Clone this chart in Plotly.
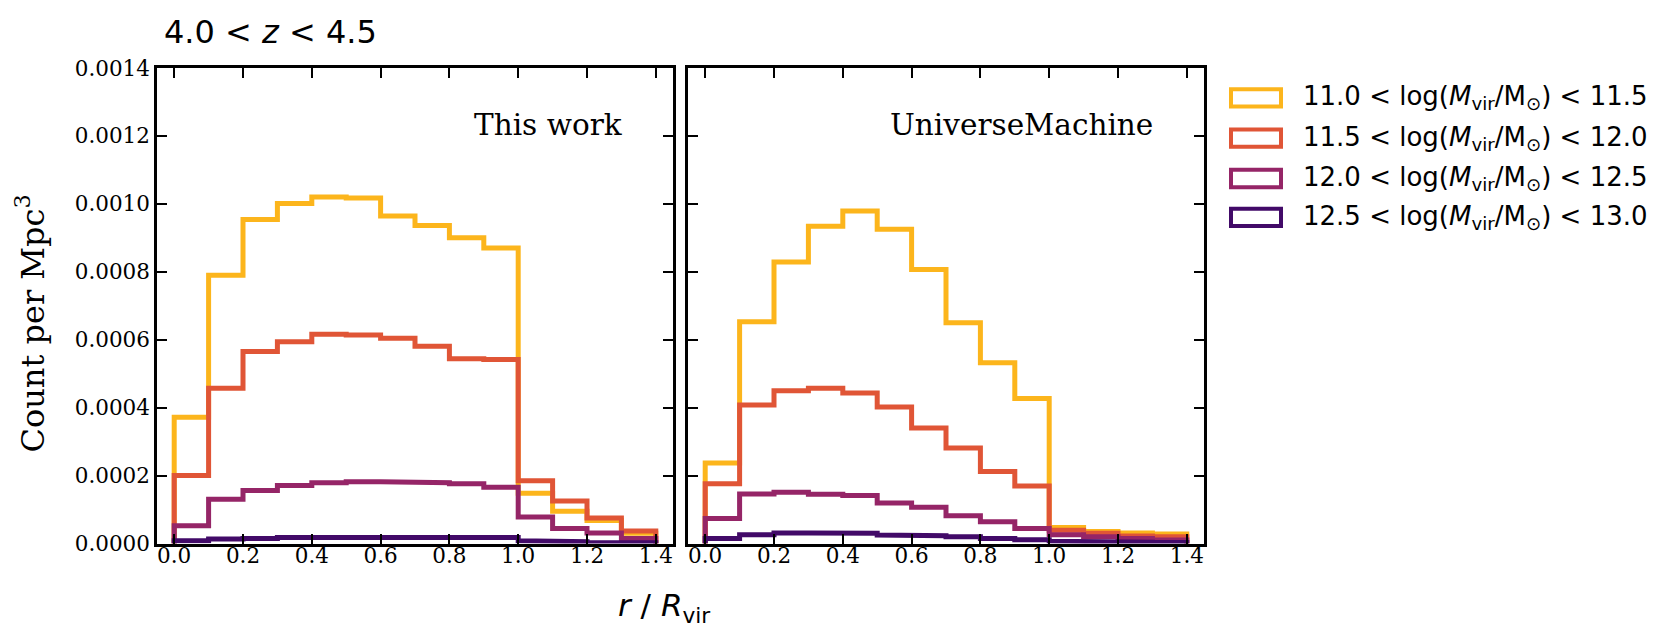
"""
Radial distribution of satellites, 4.0 < z < 4.5
This work vs UniverseMachine, step histograms per halo mass bin
"""
import numpy as np
import plotly.graph_objects as go
from plotly.subplots import make_subplots

W, H = 1661, 634
OFF = 8  # default body margin of the html page

# bin edges in r / R_vir
edges = [0.0, 0.1, 0.2, 0.3, 0.4, 0.5, 0.6, 0.7, 0.8, 0.9, 1.0, 1.1, 1.2, 1.3, 1.4]

# This work, count per Mpc^3
tw_110_115 = [0.000372, 0.00079, 0.000954, 0.001001, 0.00102, 0.001017, 0.000964,
              0.000936, 0.0009, 0.00087, 0.000148, 0.000095, 0.000068, 0.00003]
tw_115_120 = [0.0002, 0.000457, 0.000565, 0.000594, 0.000616, 0.000614, 0.000604,
              0.000581, 0.000544, 0.000542, 0.000185, 0.000125, 0.000075, 0.000037]
tw_120_125 = [0.000052, 0.00013, 0.000156, 0.000171, 0.000179, 0.000182, 0.000182,
              0.000179, 0.000176, 0.000166, 0.000078, 0.000044, 0.000031, 0.000015]
tw_125_130 = [0.000008, 0.000013, 0.000015, 0.000018, 0.000018, 0.000019, 0.000019,
              0.000019, 0.000018, 0.000018, 0.000008, 0.000005, 0.000003, 0.000002]

# UniverseMachine
um_110_115 = [0.000237, 0.000653, 0.000829, 0.000934, 0.000979, 0.000925, 0.000807,
              0.00065, 0.000532, 0.000427, 0.000047, 0.000035, 0.000031, 0.000028]
um_115_120 = [0.000176, 0.000408, 0.00045, 0.000457, 0.000443, 0.000402, 0.00034,
              0.000281, 0.000212, 0.000169, 0.000039, 0.00003, 0.000022, 0.00002]
um_120_125 = [0.000074, 0.000146, 0.000151, 0.000145, 0.000141, 0.000119, 0.000107,
              0.000082, 0.000064, 0.000044, 0.000026, 0.00002, 0.000015, 0.00001]
um_125_130 = [0.000015, 0.000026, 0.000031, 0.000031, 0.00003, 0.000025, 0.000023,
              0.00002, 0.000015, 0.000011, 0.000007, 0.000005, 0.000004, 0.000003]

mass_labels = ["11.0", "11.5", "12.0", "12.5", "13.0"]
panel_names = ["This work", "UniverseMachine"]
y_ticks = [0.0, 0.0002, 0.0004, 0.0006, 0.0008, 0.0010, 0.0012, 0.0014]
x_ticks = [0.0, 0.2, 0.4, 0.6, 0.8, 1.0, 1.2, 1.4]

colors = ['#fcb51c', '#e05536', '#952567', '#420a68']

panels = [[tw_110_115, tw_115_120, tw_120_125, tw_125_130],
          [um_110_115, um_115_120, um_120_125, um_125_130]]


def step_xy(edg, vals):
    # matplotlib histtype='step' outline
    xs = np.repeat(np.asarray(edg, dtype=float), 2)
    ys = np.concatenate([[0.0], np.repeat(np.asarray(vals, dtype=float), 2), [0.0]])
    return xs, ys


fig = make_subplots(rows=1, cols=2)

for c, series in enumerate(panels):
    for i, vals in enumerate(series):
        xs, ys = step_xy(edges, vals)
        fig.add_trace(go.Scatter(x=xs, y=ys, mode='lines',
                                 line=dict(color=colors[i], width=5),
                                 showlegend=False, hoverinfo='skip'),
                      row=1, col=c + 1)


def px_x(p):
    return (p - OFF) / W


def px_y(p):
    return 1 - (p - OFF) / H


axis_common = dict(showline=True, linecolor='black', linewidth=2.5, mirror='ticks',
                   ticks='inside', ticklen=10, tickwidth=2, tickcolor='black',
                   showgrid=False, zeroline=False,
                   tickfont=dict(family='DejaVu Serif', size=21.5, color='black'))

fig.update_xaxes(range=[-0.05, 1.45], tickvals=x_ticks, tickformat='.1f',
                 ticklabelstandoff=-9, **axis_common)
fig.update_yaxes(range=[0, 0.0014], tickvals=y_ticks, tickformat='.4f', **axis_common)

fig.update_layout(
    xaxis=dict(domain=[px_x(157), px_x(673)]),
    xaxis2=dict(domain=[px_x(688), px_x(1204)]),
    yaxis=dict(domain=[px_y(553), px_y(58)]),
    yaxis2=dict(domain=[px_y(553), px_y(58)], showticklabels=False),
)

annotations = []
# panel labels
for x_right, name in zip([625, 1155], panel_names):
    annotations.append(dict(text=name, xref='paper', yref='paper',
                            x=px_x(x_right), y=px_y(117),
                            xanchor='right', yanchor='middle', showarrow=False,
                            font=dict(family='DejaVu Serif', size=29.5, color='black')))

# redshift title
annotations.append(dict(text='4.0 < <i>z</i> < 4.5', xref='paper', yref='paper',
                        x=px_x(162), y=px_y(20), xanchor='left', yanchor='middle',
                        showarrow=False,
                        font=dict(family='DejaVu Sans', size=32, color='black')))

# axis labels
annotations.append(dict(text='Count per Mpc<sup>3</sup>', xref='paper', yref='paper',
                        x=px_x(30), y=px_y(324), textangle=-90,
                        xanchor='center', yanchor='middle', showarrow=False,
                        font=dict(family='DejaVu Serif', size=32, color='black')))
annotations.append(dict(text='<i>r</i> / <i>R</i><sub>vir</sub>', xref='paper', yref='paper',
                        x=px_x(664), y=px_y(620), xanchor='center', yanchor='middle',
                        showarrow=False,
                        font=dict(family='DejaVu Sans', size=31, color='black')))

# hand-made legend with outlined boxes
shapes = []
leg_rows = [89, 131, 173, 213.5]
for i, yc in enumerate(leg_rows):
    shapes.append(dict(type='rect', xref='paper', yref='paper',
                       x0=px_x(1231), x1=px_x(1281), y0=px_y(yc + 9), y1=px_y(yc - 9),
                       line=dict(color=colors[i], width=4), fillcolor='white'))
    label = (mass_labels[i] + ' < log(<i>M</i><sub>vir</sub>/M<sub>\u2299</sub>) < '
             + mass_labels[i + 1])
    annotations.append(dict(text=label, xref='paper', yref='paper',
                            x=px_x(1301), y=px_y(yc), xanchor='left', yanchor='middle',
                            showarrow=False,
                            font=dict(family='DejaVu Sans', size=26, color='black')))

fig.update_layout(
    width=W, height=H,
    margin=dict(l=0, r=0, t=0, b=0),
    paper_bgcolor='white', plot_bgcolor='white',
    showlegend=False,
    annotations=annotations,
    shapes=shapes,
)

fig.write_html("out.html")
